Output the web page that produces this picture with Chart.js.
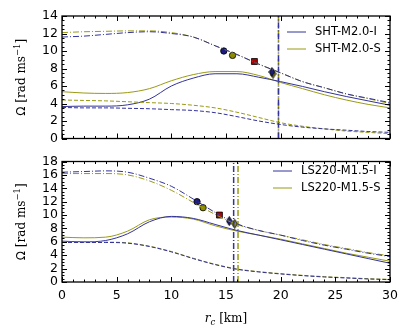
<!DOCTYPE html>
<html>
<head>
<meta charset="utf-8">
<script src="https://cdn.jsdelivr.net/npm/chart.js@4.4.1/dist/chart.umd.min.js"></script>
<style>
    body { margin: 0; background: #fff; }
    #wrap { position: relative; width: 411px; height: 329px; }
    canvas { position: absolute; left: 0; }
</style>
</head>
<body>
<div id="wrap">
    <canvas id="topo" width="411" height="150" style="top:0"></canvas>
    <canvas id="baixo" width="411" height="179" style="top:150px"></canvas>
</div>
<script>
// raio r_c [km]
const raios = [0, 2, 4, 6, 8, 10, 12, 14, 16, 18, 20, 22, 24, 26, 28, 30]
const xTicks = [0, 5, 10, 15, 20, 25, 30]

// painel superior: SHT-M2.0
const shtLabels = ['SHT-M2.0-I', 'SHT-M2.0-S']
const shtISolida = [3.65, 3.7, 3.7, 3.85, 4.5, 6.0, 6.9, 7.4, 7.4, 7.0, 6.5, 5.95, 5.35, 4.8, 4.3, 3.8]
const shtSSolida = [5.35, 5.2, 5.15, 5.25, 5.7, 6.6, 7.3, 7.65, 7.65, 7.2, 6.4, 5.7, 5.0, 4.4, 3.9, 3.5]
const shtITraco = [3.55, 3.5, 3.5, 3.45, 3.4, 3.3, 3.2, 2.95, 2.5, 2.0, 1.6, 1.3, 1.1, 0.95, 0.8, 0.7]
const shtSTraco = [4.4, 4.35, 4.3, 4.2, 4.1, 4.0, 3.8, 3.5, 3.0, 2.4, 1.8, 1.4, 1.1, 0.85, 0.7, 0.55]
const shtIPonto = [11.6, 11.7, 11.9, 12.1, 12.2, 12.0, 11.6, 10.6, 9.6, 8.5, 7.5, 6.5, 5.8, 5.1, 4.6, 4.1]
const shtSPonto = [12.1, 12.2, 12.25, 12.3, 12.3, 12.1, 11.6, 10.6, 9.6, 8.5, 7.5, 6.5, 5.8, 5.1, 4.55, 4.0]
const shtVerticais = [19.8, 19.8]
const shtMarcas = { circI: [14.8, 10.0], circS: [15.6, 9.5], quad: [17.6, 8.8], diamI: [19.2, 7.6], diamS: [19.3, 7.4] }

// painel inferior: LS220-M1.5
const lsLabels = ['LS220-M1.5-I', 'LS220-M1.5-S']
const lsISolida = [6.1, 6.0, 6.2, 7.2, 9.0, 9.8, 9.5, 8.6, 7.7, 7.0, 6.3, 5.6, 4.9, 4.2, 3.5, 2.8]
const lsSSolida = [6.7, 6.6, 6.7, 7.6, 9.3, 9.7, 9.4, 8.4, 7.6, 7.0, 6.4, 5.7, 5.0, 4.3, 3.7, 3.1]
const lsITraco = [5.9, 5.9, 5.9, 5.8, 5.3, 4.5, 3.5, 2.6, 1.9, 1.5, 1.2, 0.95, 0.75, 0.6, 0.45, 0.35]
const lsSTraco = [5.95, 5.95, 5.95, 5.85, 5.35, 4.55, 3.55, 2.65, 1.95, 1.55, 1.25, 1.0, 0.8, 0.65, 0.5, 0.4]
const lsIPonto = [16.4, 16.5, 16.6, 16.4, 15.5, 14.3, 12.4, 10.4, 8.7, 7.7, 7.0, 6.2, 5.5, 4.9, 4.3, 3.8]
const lsSPonto = [16.2, 16.2, 16.2, 16.0, 15.1, 13.7, 11.9, 10.1, 8.6, 7.7, 7.0, 6.3, 5.6, 5.0, 4.4, 3.9]
const lsVerticais = [15.7, 16.1]
const lsMarcas = { circI: [12.35, 12.0], circS: [12.9, 11.1], quad: [14.4, 10.0], diamI: [15.3, 9.1], diamS: [15.8, 8.7] }

const yTop = [0, 2, 4, 6, 8, 10, 12, 14]
const yBot = [0, 2, 4, 6, 8, 10, 12, 14, 16, 18]

const AZUL = '#33339a'
const OLIVA = '#9a9a14'
const TRACO = [4, 2]
const PONTO = [6, 2, 1, 2]

function pares(ys) {
    return raios.map((x, i) => ({ x: x, y: ys[i] }))
}

function losango(cor) {
    const c = document.createElement('canvas')
    c.width = 7; c.height = 10
    const g = c.getContext('2d')
    g.beginPath()
    g.moveTo(3.5, 0.5); g.lineTo(6.3, 5); g.lineTo(3.5, 9.5); g.lineTo(0.7, 5); g.closePath()
    g.fillStyle = cor; g.fill()
    g.strokeStyle = '#000'; g.lineWidth = 0.9; g.stroke()
    return c
}

function linha(label, ys, cor, dash) {
    return {
        label: label,
        data: pares(ys),
        borderColor: cor,
        borderWidth: 1,
        borderDash: dash || [],
        pointRadius: 0,
        cubicInterpolationMode: 'monotone',
        fill: false
    }
}

function vertical(x, ymax, cor, dash) {
    return {
        data: [{ x: x, y: 0 }, { x: x, y: ymax }],
        borderColor: cor,
        borderWidth: 1.5,
        borderDash: dash,
        pointRadius: 0
    }
}

function marca(p, style, cor, r) {
    return {
        type: 'scatter',
        data: [{ x: p[0], y: p[1] }],
        pointStyle: style,
        pointRadius: r,
        pointBackgroundColor: cor,
        pointBorderColor: '#000',
        pointBorderWidth: 0.8
    }
}

const moldura = {
    id: 'moldura',
    afterDraw(chart, args, opts) {
        const ctx = chart.ctx
        const a = chart.chartArea
        const sx = chart.scales.x, sy = chart.scales.y
        ctx.save()
        ctx.strokeStyle = '#000'
        ctx.lineWidth = 1
        for (let v = 0; v <= 30; v++) {
            const px = Math.round(sx.getPixelForValue(v)) + 0.5
            const len = v % 5 === 0 ? 5 : 2.5
            ctx.beginPath()
            ctx.moveTo(px, a.bottom); ctx.lineTo(px, a.bottom - len)
            ctx.moveTo(px, a.top); ctx.lineTo(px, a.top + len)
            ctx.stroke()
        }
        for (let v = 0; v <= opts.ymax; v += 0.5) {
            const py = Math.round(sy.getPixelForValue(v)) + 0.5
            const len = v % 2 === 0 ? 5 : 2.5
            ctx.beginPath()
            ctx.moveTo(a.left, py); ctx.lineTo(a.left + len, py)
            ctx.moveTo(a.right, py); ctx.lineTo(a.right - len, py)
            ctx.stroke()
        }
        ctx.lineWidth = 1.3
        ctx.strokeRect(a.left, a.top, a.right - a.left, a.bottom - a.top)

        // legenda
        ctx.font = '11.5px "DejaVu Sans"'
        ctx.textBaseline = 'middle'
        ctx.fillStyle = '#000'
        opts.legenda.forEach((txt, i) => {
            const y = opts.legY + i * 17
            ctx.strokeStyle = [AZUL, OLIVA][i]
            ctx.lineWidth = 1
            ctx.beginPath()
            ctx.moveTo(opts.legX, y); ctx.lineTo(opts.legX + 19, y)
            ctx.stroke()
            ctx.fillText(txt, opts.legX + 28, y)
        })

        // título do eixo y
        const cy = (a.top + a.bottom) / 2
        ctx.translate(22, cy)
        ctx.rotate(-Math.PI / 2)
        ctx.textBaseline = 'middle'
        const p1 = 'Ω ', p2 = '[rad ms', p3 = '−1', p4 = ']'
        ctx.font = '12px "DejaVu Sans"'
        const w1 = ctx.measureText(p1).width
        ctx.font = '12px "DejaVu Serif"'
        const w2 = ctx.measureText(p2).width, w4 = ctx.measureText(p4).width
        ctx.font = '8.5px "DejaVu Serif"'
        const w3 = ctx.measureText(p3).width
        let x = -(w1 + w2 + w3 + w4) / 2
        ctx.font = '12px "DejaVu Sans"'
        ctx.fillText(p1, x, 0); x += w1
        ctx.font = '12px "DejaVu Serif"'
        ctx.fillText(p2, x, 0); x += w2
        ctx.font = '8.5px "DejaVu Serif"'
        ctx.fillText(p3, x, -4); x += w3
        ctx.font = '12px "DejaVu Serif"'
        ctx.fillText(p4, x, 0)
        ctx.restore()

        if (opts.tituloX) {
            ctx.save()
            ctx.fillStyle = '#000'
            ctx.textBaseline = 'alphabetic'
            const cx = (a.left + a.right) / 2
            const by = a.bottom + 40
            ctx.font = 'italic 12px "DejaVu Serif"'
            const wr = ctx.measureText('r').width
            ctx.font = 'italic 8.5px "DejaVu Serif"'
            const wc = ctx.measureText('c').width
            ctx.font = '12px "DejaVu Serif"'
            const wk = ctx.measureText(' [km]').width
            let xx = cx - (wr + wc + wk) / 2
            ctx.font = 'italic 12px "DejaVu Serif"'
            ctx.fillText('r', xx, by); xx += wr
            ctx.font = 'italic 8.5px "DejaVu Serif"'
            ctx.fillText('c', xx, by + 2.5); xx += wc
            ctx.font = '12px "DejaVu Serif"'
            ctx.fillText(' [km]', xx, by)
            ctx.restore()
        }
    }
}

function criarPainel(id, cfg) {
    const el = document.getElementById(id)
    const datasets = [
        linha(cfg.labels[0], cfg.pontoI, AZUL, PONTO),
        linha(cfg.labels[1], cfg.pontoS, OLIVA, PONTO),
        linha(cfg.labels[0], cfg.tracoI, AZUL, TRACO),
        linha(cfg.labels[1], cfg.tracoS, OLIVA, TRACO),
        linha(cfg.labels[0], cfg.solI, AZUL),
        linha(cfg.labels[1], cfg.solS, OLIVA),
        vertical(cfg.verticais[0], cfg.ymax, AZUL, PONTO),
        vertical(cfg.verticais[1], cfg.ymax, OLIVA, cfg.dashS),
        marca(cfg.marcas.circI, 'circle', '#1c1c7c', 3.2),
        marca(cfg.marcas.circS, 'circle', '#8c8c00', 3.2),
        marca(cfg.marcas.quad, 'rect', '#b00000', 4.2),
        marca(cfg.marcas.diamI, losango('#1c1c7c'), '#1c1c7c', 4),
        marca(cfg.marcas.diamS, losango('#8c8c00'), '#8c8c00', 4)
    ]
    new Chart(el, {
        type: 'line',
        data: { datasets: datasets },
        plugins: [moldura],
        options: {
            responsive: false,
            animation: false,
            layout: { padding: cfg.padding },
            plugins: {
                legend: { display: false },
                tooltip: { enabled: false },
                moldura: { ymax: cfg.ymax, legenda: cfg.labels, legX: cfg.legX, legY: cfg.legY, tituloX: cfg.tituloX }
            },
            scales: {
                x: {
                    type: 'linear',
                    min: 0, max: 30,
                    display: cfg.tituloX,
                    afterBuildTicks: s => { s.ticks = xTicks.map(v => ({ value: v })) },
                    afterFit: s => { s.height = cfg.tituloX ? 47 : 0 },
                    grid: { display: false, drawTicks: false },
                    border: { display: false },
                    ticks: { color: '#000', padding: 6, maxRotation: 0, autoSkip: false, font: { family: 'DejaVu Sans', size: 12.5 } }
                },
                y: {
                    min: 0, max: cfg.ymax,
                    afterBuildTicks: s => { s.ticks = cfg.yTicks.map(v => ({ value: v })) },
                    afterFit: s => { s.width = 62 },
                    grid: { display: false, drawTicks: false },
                    border: { display: false },
                    ticks: { color: '#000', padding: 4, autoSkip: false, font: { family: 'DejaVu Sans', size: 12.5 } }
                }
            }
        }
    })
}

criarPainel('topo', {
    labels: shtLabels, solI: shtISolida, solS: shtSSolida, tracoI: shtITraco, tracoS: shtSTraco,
    pontoI: shtIPonto, pontoS: shtSPonto, verticais: shtVerticais, marcas: shtMarcas,
    ymax: 14, yTicks: yTop, padding: { top: 16, right: 21, bottom: 7, left: 0 },
    legX: 287, legY: 32, tituloX: false, dashS: [7, 3, 1.5, 3]
})
criarPainel('baixo', {
    labels: lsLabels, solI: lsISolida, solS: lsSSolida, tracoI: lsITraco, tracoS: lsSTraco,
    pontoI: lsIPonto, pontoS: lsSPonto, verticais: lsVerticais, marcas: lsMarcas,
    ymax: 18, yTicks: yBot, padding: { top: 6, right: 21, bottom: 0, left: 0 },
    legX: 273, legY: 21, tituloX: true, dashS: PONTO
})
</script>
</body>
</html>
